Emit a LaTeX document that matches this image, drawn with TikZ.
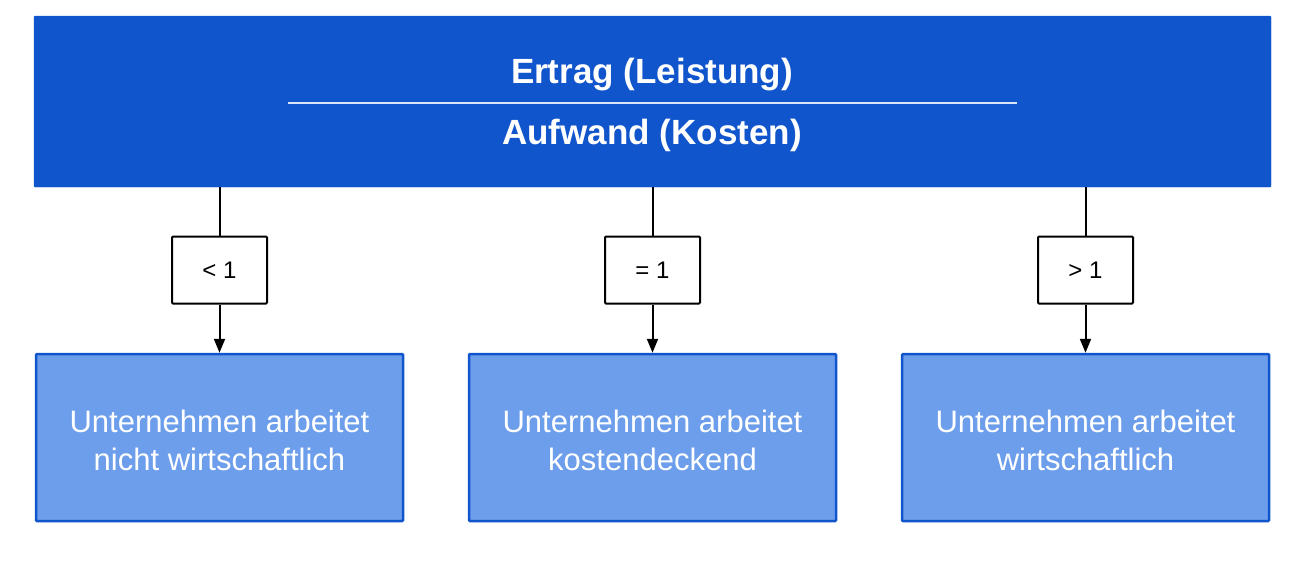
\documentclass[tikz,border=0pt]{standalone}
\usepackage{fontspec}
\setmainfont{Liberation Sans}
\usetikzlibrary{arrows.meta}
\definecolor{topblue}{HTML}{1155CC}
\definecolor{lightblue}{HTML}{6D9EEB}
\begin{document}
\begin{tikzpicture}[x=1pt,y=-1pt,
  topbox/.style={fill=topblue,draw=topblue,rounded corners=1pt},
  resbox/.style={fill=lightblue,draw=topblue,line width=2.5pt,rounded corners=1pt},
  restext/.style={text=white,align=center,font=\fontsize{31}{38}\selectfont,inner sep=0pt},
  titletext/.style={text=white,font=\bfseries\fontsize{35}{40}\selectfont,anchor=base,inner sep=0pt},
  cmpbox/.style={draw=black,line width=2pt,fill=white,rounded corners=1pt,font=\fontsize{24}{28}\selectfont},
  conn/.style={line width=2pt,draw=black},
  arr/.style={conn,-{Triangle[length=14pt,width=11pt]}}]
\useasboundingbox (0,0) rectangle (1309,568);
\node[topbox,minimum width=1237pt,minimum height=171pt,inner sep=0pt] (top) at (652.5,101.5) {};
\node[titletext] (num) at (652,83) {Ertrag (Leistung)};
\node[titletext] (den) at (652,144) {Aufwand (Kosten)};
\coordinate (fl) at (288,103);
\coordinate (fr) at (1017,103);
\draw[white!85!topblue,line width=1.5pt] (fl) -- (fr);
\foreach \i/\x/\t/\bl in {a/219.5/{< 1}/{Unternehmen arbeitet\\nicht wirtschaftlich},
                          b/652.5/{= 1}/{Unternehmen arbeitet\\kostendeckend},
                          c/1085.5/{> 1}/{Unternehmen arbeitet\\wirtschaftlich}}{
  \node[cmpbox,minimum width=95pt,minimum height=67pt,inner sep=0pt] (c\i) at (\x,270) {\t};
  \node[resbox,minimum width=367pt,minimum height=167pt,inner sep=0pt] (r\i) at (\x,437.5) {};
  \node[restext] (t\i) at (\x,440) {\bl};
  \draw[conn] (top.south -| c\i.north) -- (c\i.north);
  \draw[arr] (c\i.south) -- (r\i.north);
}
\end{tikzpicture}
\end{document}
